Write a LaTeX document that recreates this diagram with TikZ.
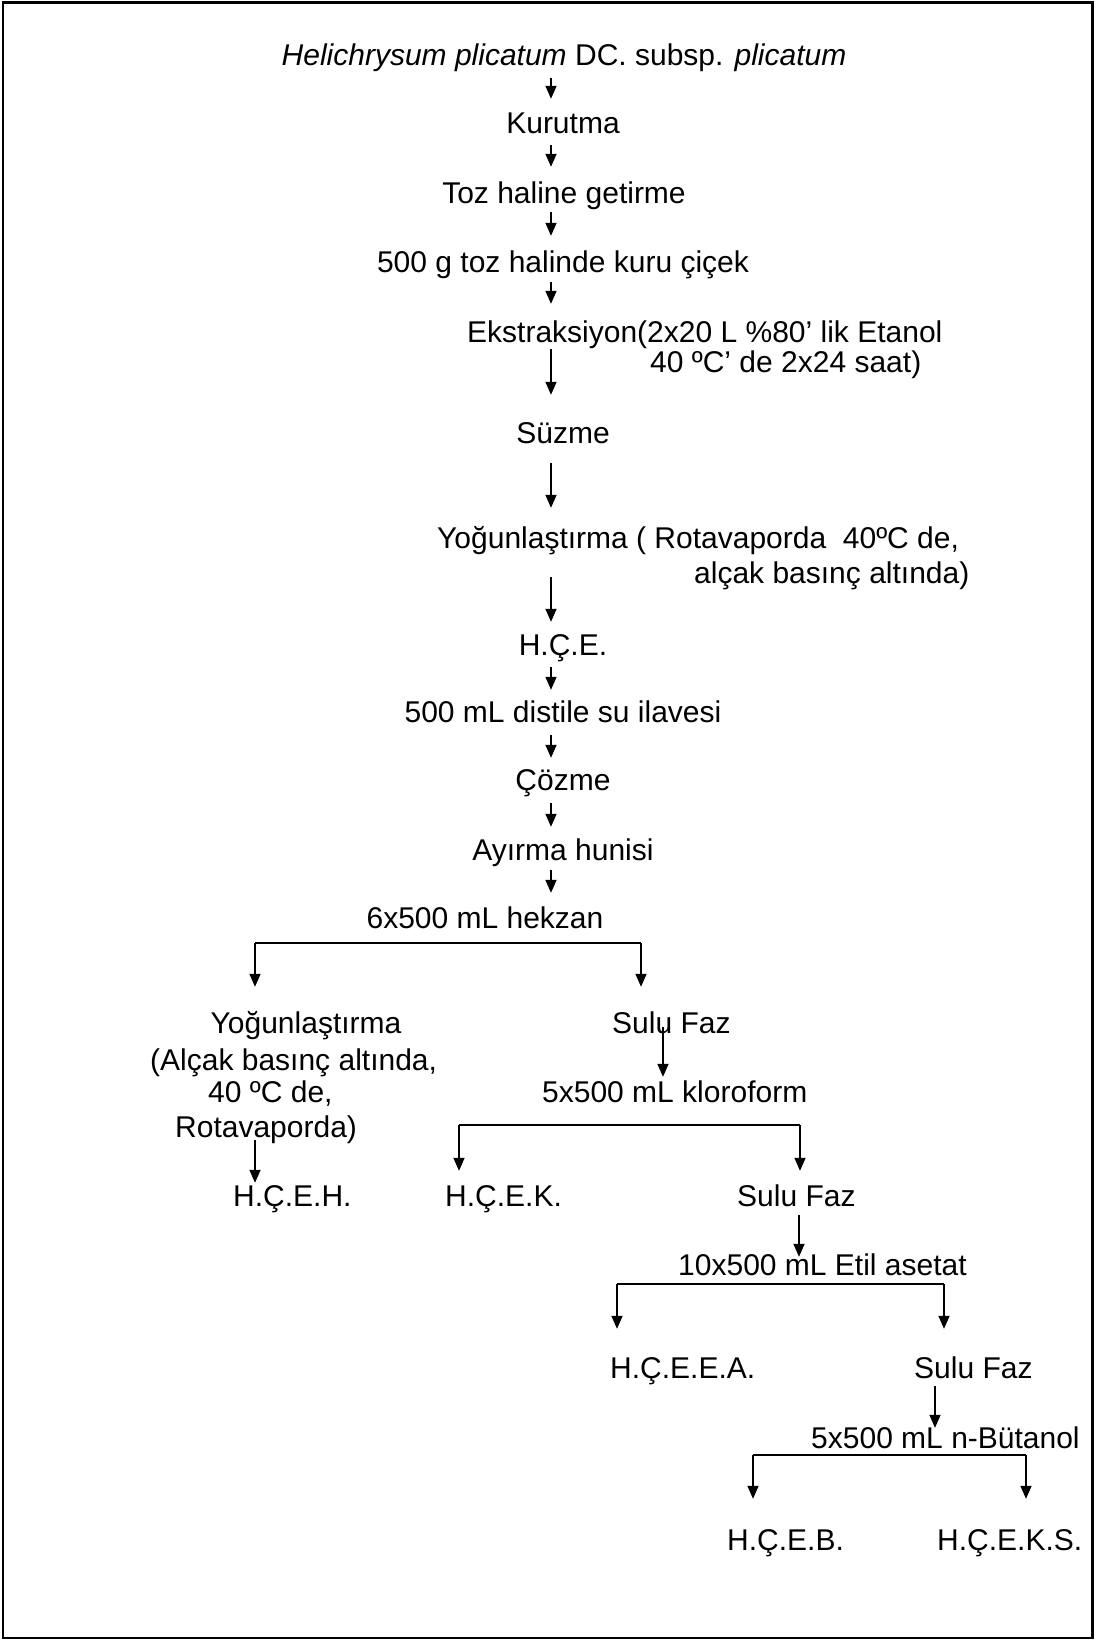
\documentclass[tikz,border=0pt]{standalone}
\usepackage{fontspec}
\setmainfont{Liberation Sans}
\usetikzlibrary{arrows.meta}
\tikzset{
  txt/.style={inner sep=0pt, text height=21.5pt, text depth=0pt, font=\fontsize{30}{36}\selectfont},
  arr/.style={line width=1.5pt, -{Triangle[length=13pt,width=11pt]}},
  hl/.style={line width=1.8pt},
}
\begin{document}
\begin{tikzpicture}[x=1pt,y=-1pt]
\useasboundingbox (0,0) rectangle (1096,1640);
\draw[line width=2.2pt] (3,2.5) rectangle (1092.5,1638);
% main column
\node[txt] (helich) at (564,55) {\textit{Helichrysum plicatum} DC. subsp. \textit{plicatum}};
\node[txt] (kurutma) at (563,123) {Kurutma};
\node[txt] (toz) at (564,193) {Toz haline getirme};
\node[txt] (g500) at (563,262) {500 g toz halinde kuru çiçek};
\node[txt,anchor=west] (ekstr1) at (467,332) {Ekstraksiyon(2x20 L \%80’ lik Etanol};
\node[txt,anchor=west] (ekstr2) at (650,362) {40 ºC’ de 2x24 saat)};
\node[txt] (suzme) at (563,433) {Süzme};
\node[txt,anchor=west] (yog1) at (437,538) {Yoğunlaştırma ( Rotavaporda\ \ 40ºC de,};
\node[txt,anchor=west] (yog2) at (694,573) {alçak basınç altında)};
\node[txt] (hce) at (563,645) {H.Ç.E.};
\node[txt] (su) at (563,712) {500 mL distile su ilavesi};
\node[txt] (cozme) at (563,780) {Çözme};
\node[txt] (ayirma) at (563,850) {Ayırma hunisi};
\node[txt] (hekzan) at (485,918) {6x500 mL hekzan};
% left branch
\node[txt] (yogL1) at (306,1023) {Yoğunlaştırma};
\node[txt,anchor=west] (yogL2) at (150,1060) {(Alçak basınç altında,};
\node[txt,anchor=west] (yogL3) at (208,1092) {40 ºC de,};
\node[txt,anchor=west] (yogL4) at (175,1127) {Rotavaporda)};
\node[txt,anchor=west] (hceh) at (233,1196) {H.Ç.E.H.};
% right branches
\node[txt,anchor=west] (sulu1) at (612,1023) {Sulu Faz};
\node[txt,anchor=west] (klor) at (542,1092) {5x500 mL kloroform};
\node[txt,anchor=west] (hcek) at (445,1196) {H.Ç.E.K.};
\node[txt,anchor=west] (sulu2) at (737,1196) {Sulu Faz};
\node[txt,anchor=west] (etil) at (678,1265) {10x500 mL Etil asetat};
\node[txt,anchor=west] (hceea) at (610,1368) {H.Ç.E.E.A.};
\node[txt,anchor=west] (sulu3) at (914,1368) {Sulu Faz};
\node[txt,anchor=west] (butanol) at (811,1438) {5x500 mL n-Bütanol};
\node[txt,anchor=west] (hceb) at (727,1540) {H.Ç.E.B.};
\node[txt,anchor=west] (hceks) at (937,1540) {H.Ç.E.K.S.};
% column coordinates
\coordinate (c1) at (551,0);
\coordinate (cL) at (255,0);
\coordinate (c2) at (663,0);
\coordinate (c3) at (799,0);
\coordinate (c4) at (935,0);
% main arrows
\draw[arr, shorten <=12.25pt, shorten >=13.25pt] (helich.south -| c1) -- (kurutma.north -| c1);
\draw[arr, shorten <=11.25pt, shorten >=15.25pt] (kurutma.south -| c1) -- (toz.north -| c1);
\draw[arr, shorten <=8.25pt, shorten >=15.25pt] (toz.south -| c1) -- (g500.north -| c1);
\draw[arr, shorten <=9.25pt, shorten >=17.25pt] (g500.south -| c1) -- (ekstr1.north -| c1);
\draw[arr, shorten <=6.25pt, shorten >=27.25pt] (ekstr1.south -| c1) -- (suzme.north -| c1);
\draw[arr, shorten <=19.25pt, shorten >=19.25pt] (suzme.south -| c1) -- (yog1.north -| c1);
\draw[arr, shorten <=28.25pt, shorten >=12.25pt] (yog1.south -| c1) -- (hce.north -| c1);
\draw[arr, shorten <=11.25pt, shorten >=11.25pt] (hce.south -| c1) -- (su.north -| c1);
\draw[arr, shorten <=12.25pt, shorten >=11.25pt] (su.south -| c1) -- (cozme.north -| c1);
\draw[arr, shorten <=12.25pt, shorten >=12.25pt] (cozme.south -| c1) -- (ayirma.north -| c1);
\draw[arr, shorten <=9.25pt, shorten >=14.25pt] (ayirma.south -| c1) -- (hekzan.north -| c1);
% branch 1 (hekzan)
\coordinate (bl1) at (255,943);
\coordinate (br1) at (641,943);
\draw[hl] (bl1) -- (br1);
\draw[arr, shorten >=25.25pt] (bl1) -- (yogL1.north -| bl1);
\draw[arr, shorten >=25.25pt] (br1) -- (sulu1.north -| br1);
\draw[arr, shorten <=2.25pt, shorten >=2.25pt] (yogL4.south -| cL) -- (hceh.north -| cL);
\draw[arr, shorten <=-6.75pt, shorten >=4.25pt] (sulu1.south -| c2) -- (klor.north -| c2);
% branch 2 (kloroform)
\coordinate (bl2) at (459,1125);
\coordinate (br2) at (800,1125);
\draw[hl] (bl2) -- (br2);
\draw[arr, shorten >=14.25pt] (bl2) -- (hcek.north -| bl2);
\draw[arr, shorten >=14.25pt] (br2) -- (sulu2.north -| br2);
\draw[arr, shorten <=8.25pt, shorten >=-2.75pt] (sulu2.south -| c3) -- (etil.north -| c3);
% branch 3 (etil asetat)
\coordinate (bl3) at (617,1284);
\coordinate (br3) at (944,1284);
\draw[hl] (bl3) -- (br3);
\draw[arr, shorten >=28.25pt] (bl3) -- (hceea.north -| bl3);
\draw[arr, shorten >=28.25pt] (br3) -- (sulu3.north -| br3);
\draw[arr, shorten <=7.25pt, shorten >=-0.75pt] (sulu3.south -| c4) -- (butanol.north -| c4);
% branch 4 (butanol)
\coordinate (bl4) at (753,1455);
\coordinate (br4) at (1026,1455);
\draw[hl] (bl4) -- (br4);
\draw[arr, shorten >=30.25pt] (bl4) -- (hceb.north -| bl4);
\draw[arr, shorten >=30.25pt] (br4) -- (hceks.north -| br4);
\end{tikzpicture}
\end{document}
